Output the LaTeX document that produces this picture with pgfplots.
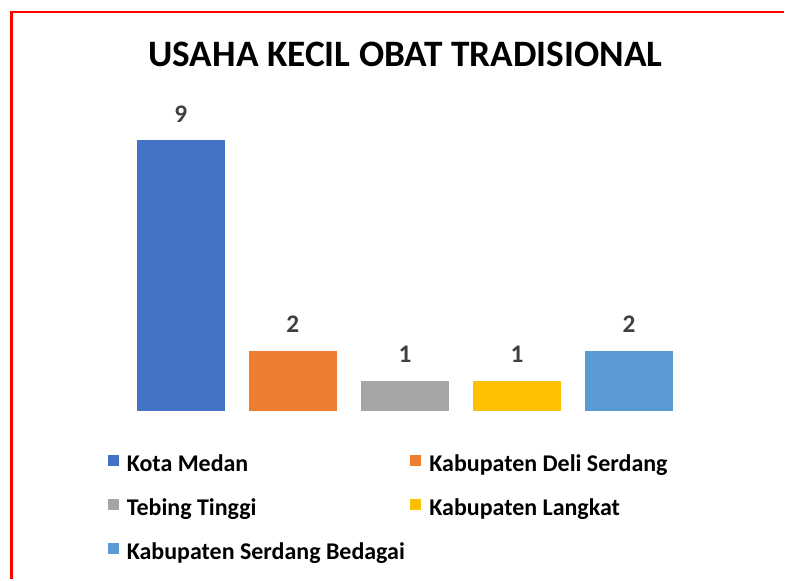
\documentclass[border=0pt]{standalone}
\usepackage{pgfplots}
\pgfplotsset{compat=1.18}
\usepackage{fontspec}
\setmainfont{Carlito}
\definecolor{cA}{HTML}{4472C4}
\definecolor{cB}{HTML}{ED7D31}
\definecolor{cC}{HTML}{A5A5A5}
\definecolor{cD}{HTML}{FFC000}
\definecolor{cE}{HTML}{5B9BD5}
\definecolor{lab}{HTML}{404040}
\begin{document}
\begin{tikzpicture}[x=0.75pt,y=-0.75pt]
\fill[white] (0,0) rectangle (785,580);
\draw[red, line width=1.6pt] (10,12) -- (785,12);
\draw[red, line width=2.25pt] (11.5,11) -- (11.5,580);
\node[anchor=base, inner sep=0pt, font=\fontsize{28}{32}\selectfont\bfseries] at (406,67) {USAHA KECIL OBAT TRADISIONAL};
\coordinate (axorig) at (68.75,411.5);
\begin{axis}[
  at={(axorig)}, anchor=south west, scale only axis,
  width=505.125pt, height=225.83pt,
  xmin=-1, xmax=5, ymin=0, ymax=10,
  axis lines=none, ticks=none, clip=false,
  ybar, bar width=0.784,
  /pgf/number format/assume math mode=true,
  nodes near coords,
  every node near coord/.append style={font=\fontsize{19}{21}\selectfont\bfseries, text=lab, inner sep=0pt, anchor=south, yshift=13.5pt},
  legend columns=2,
  legend cell align=left,
  legend image code/.code={\path[#1, draw=none] (0pt,0pt) rectangle (8.25pt,8.25pt); \path (14.25pt,0pt);},
  legend style={draw=none, fill=none, inner sep=0pt, outer sep=0pt,
    at={(0.05828,-0.146)}, anchor=north west,
    font=\fontsize{18}{20}\selectfont\bfseries,
    nodes={inner sep=0pt, outer sep=0pt, text height=12pt, text depth=4pt},
    column sep=0pt, row sep=17pt},
]
\addplot[fill=cA, draw=none, bar shift=0pt] coordinates {(0,9)};
\addlegendentry{\makebox[213pt][l]{Kota Medan}}
\addplot[fill=cB, draw=none, bar shift=0pt] coordinates {(1,2)};
\addlegendentry{Kabupaten Deli Serdang}
\addplot[fill=cC, draw=none, bar shift=0pt] coordinates {(2,1)};
\addlegendentry{\makebox[213pt][l]{Tebing Tinggi}}
\addplot[fill=cD, draw=none, bar shift=0pt] coordinates {(3,1)};
\addlegendentry{Kabupaten Langkat}
\addplot[fill=cE, draw=none, bar shift=0pt] coordinates {(4,2)};
\addlegendentry{\makebox[213pt][l]{Kabupaten Serdang Bedagai}}
\end{axis}
\end{tikzpicture}
\end{document}
